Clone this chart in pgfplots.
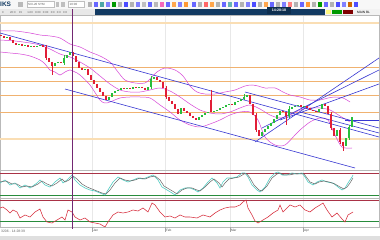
\documentclass[border=0pt]{standalone}
\usepackage{pgfplots}
\pgfplotsset{compat=1.18}
\usepackage{fontspec}
\setmainfont{Liberation Sans}
\definecolor{orl}{RGB}{240,178,112}
\definecolor{orlight}{RGB}{250,222,180}
\definecolor{mag}{RGB}{215,70,215}
\definecolor{bl}{RGB}{55,55,210}
\definecolor{candR}{RGB}{225,30,55}
\definecolor{candG}{RGB}{40,190,60}
\definecolor{vpurp}{RGB}{115,40,115}
\definecolor{navy}{RGB}{18,58,98}
\definecolor{teal1}{RGB}{80,205,195}
\definecolor{oscred}{RGB}{215,45,60}
\definecolor{lvlred}{RGB}{170,50,70}
\definecolor{lvlgreen}{RGB}{40,140,60}
\pgfplotsset{panel/.style={scale only axis, xmin=0, xmax=379, y dir=reverse,
  axis line style={draw=gray!55, line width=0.4pt}, xtick={92,165,230,303},
  xticklabels={}, ytick=\empty, major tick length=0pt, xmajorgrids,
  grid style={gray!18, line width=0.4pt}, clip=true, anchor=south west, at={(0,0)}, width=379pt}}
\begin{document}
\begin{tikzpicture}[x=1pt,y=1pt]
\fill[white] (0,0) rectangle (380,240);
% ---------- main price panel ----------
\begin{scope}[shift={(0,70)}]
\begin{axis}[panel, height=155pt, ymin=15, ymax=170]
\addplot[orlight, line width=1.4pt] coordinates {(0,23)(379,23)};
\addplot[orlight, line width=1.4pt] coordinates {(0,139)(379,139)};
\addplot[orl, line width=0.6pt] coordinates {(0,67)(379,67)};
\addplot[orl, line width=0.6pt] coordinates {(0,81)(379,81)};
\addplot[orl, line width=0.6pt] coordinates {(0,95)(379,95)};
\addplot[orl, line width=0.6pt] coordinates {(0,112)(379,112)};
% bollinger bands
\addplot[mag, line width=0.5pt, smooth] coordinates {(0,31)(15,31)(30,33)(40,35)(50,36)(60,38)(70,44)(80,47)(90,52)(100,56)(110,62)(118,72)(125,80)(135,83)(145,83)(150,79)(157,72)(165,68)(175,70)(183,76)(190,86)(197,92)(205,94)(215,94)(225,92)(235,90)(245,86)(252,85)(258,86)(265,88)(275,88)(283,92)(290,95)(300,97)(310,100)(320,100)(328,98)(335,97)(343,98)(350,102)};
\addplot[mag, line width=0.5pt, smooth] coordinates {(0,40)(15,41)(30,43)(40,45)(50,49)(60,54)(70,57)(80,62)(90,68)(100,76)(110,84)(120,90)(130,92)(140,92)(150,90)(160,88)(170,91)(180,97)(190,104)(200,110)(210,113)(220,114)(230,112)(240,108)(250,105)(260,109)(270,115)(280,118)(290,115)(300,110)(310,108)(320,108)(330,110)(340,116)(350,122)};
\addplot[mag, line width=0.5pt, smooth] coordinates {(0,52)(10,53)(20,54)(30,56)(40,60)(45,64)(50,70)(55,72)(60,75)(65,72)(70,70)(75,72)(80,75)(90,85)(100,100)(105,103)(110,102)(120,98)(130,97)(140,97)(150,98)(160,105)(170,112)(180,120)(190,125)(200,127)(210,124)(220,120)(230,115)(240,112)(250,112)(258,120)(265,137)(275,145)(285,145)(295,135)(300,130)(310,122)(320,118)(328,120)(335,135)(342,147)(352,148)};
% trend lines
\addplot[bl, line width=0.6pt] coordinates {(0,33)(379,137)};
\addplot[bl, line width=0.6pt] coordinates {(65,89)(355,168)};
\addplot[bl, line width=0.6pt] coordinates {(245,92)(379,128)};
\addplot[bl, line width=0.6pt] coordinates {(300,112)(379,133)};
\addplot[bl, line width=0.6pt] coordinates {(345,120)(379,120)};
\addplot[bl, line width=0.6pt] coordinates {(255,142)(379,58)};
\addplot[bl, line width=0.6pt] coordinates {(262,128)(379,70)};
\addplot[bl, line width=0.6pt] coordinates {(280,120)(379,84)};
% wicks
\addplot[candR, line width=0.4pt, unbounded coords=jump] coordinates {(52,62)(52,75)(52,nan)(211,90)(211,112)(211,nan)(286,112)(286,125)(286,nan)(343,142)(343,151)(343,nan)(340,128)(340,144)(340,nan)(46,45)(46,60)(46,nan)(166,86)(166,99)(166,nan)(256,113)(256,132)(256,nan)(331,112)(331,130)};
\addplot[candG, line width=0.4pt, unbounded coords=jump] coordinates {(151,76)(151,89)(151,nan)(289,106)(289,118)(289,nan)(349,125)(349,140)(349,nan)(64,55)(64,65)(64,nan)(244,94)(244,100)};
% red candles
\addplot[candR, line width=1.05pt, unbounded coords=jump] coordinates {
(1,35)(1,36)(1,nan)(4,36)(4,38)(4,nan)(10,37)(10,40)(10,nan)(13,40)(13,43)(13,nan)(16,43)(16,45)(16,nan)
(22,44)(22,46)(22,nan)(28,45)(28,47)(28,nan)(34,46)(34,47)(34,nan)(43,45)(43,47)(43,nan)(46,47)(46,58)(46,nan)
(49,58)(49,62)(49,nan)(52,62)(52,66)(52,nan)(61,62)(61,63.2)(61,nan)(73,52)(73,56)(73,nan)(76,56)(76,62)(76,nan)
(79,62)(79,68)(79,nan)(82,68)(82,70)(82,nan)(88,69)(88,75)(88,nan)(91,75)(91,80)(91,nan)(94,80)(94,84)(94,nan)
(97,84)(97,88)(97,nan)(100,88)(100,92)(100,nan)(103,92)(103,96)(103,nan)(106,96)(106,100)(106,nan)
(124,88)(124,89.2)(124,nan)(130,88)(130,89.2)(130,nan)(136,87)(136,88.2)(136,nan)(142,87)(142,88.2)(142,nan)(145,88)(145,90)(145,nan)
(157,77)(157,80)(157,nan)(160,80)(160,82)(160,nan)(163,82)(163,88)(163,nan)(166,88)(166,97)(166,nan)(169,97)(169,101)(169,nan)
(172,101)(172,104)(172,nan)(175,104)(175,109)(175,nan)(178,109)(178,114)(178,nan)(184,108)(184,111)(184,nan)(187,111)(187,113)(187,nan)
(190,113)(190,116)(190,nan)(193,116)(193,118)(193,nan)(196,118)(196,120)(196,nan)(211,100)(211,112)(211,nan)(232,104)(232,105.2)(232,nan)
(250,95)(250,104)(250,nan)(253,104)(253,115)(253,nan)(256,115)(256,130)(256,nan)(259,130)(259,136)(259,nan)
(283,111)(283,112.2)(283,nan)(286,112)(286,116)(286,nan)(301,105)(301,107)(301,nan)(307,106)(307,108)(307,nan)(310,108)(310,110)(310,nan)
(313,110)(313,111.2)(313,nan)(316,111)(316,112.2)(316,nan)(325,104)(325,106)(325,nan)(328,106)(328,114)(328,nan)(331,114)(331,128)(331,nan)
(334,128)(334,136)(334,nan)(340,130)(340,142)(340,nan)(343,142)(343,146)};
% green candles
\addplot[candG, line width=1.05pt, unbounded coords=jump] coordinates {
(7,38)(7,37)(7,nan)(19,45)(19,44)(19,nan)(25,46)(25,45)(25,nan)(31,47)(31,46)(31,nan)(37,47)(37,46)(37,nan)(40,46)(40,45)(40,nan)
(55,66)(55,63)(55,nan)(58,63)(58,62)(58,nan)(64,63)(64,58)(64,nan)(67,58)(67,55)(67,nan)(70,55)(70,52)(70,nan)(85,70)(85,69)(85,nan)
(109,100)(109,97)(109,nan)(112,97)(112,93)(112,nan)(115,93)(115,91)(115,nan)(118,91)(118,90)(118,nan)(121,90)(121,88)(121,nan)
(127,89)(127,88)(127,nan)(133,89)(133,87)(133,nan)(139,88)(139,87)(139,nan)(148,90)(148,87)(148,nan)(151,87)(151,79)(151,nan)(154,79)(154,77)(154,nan)
(181,114)(181,108)(181,nan)(199,120)(199,117)(199,nan)(202,117)(202,115)(202,nan)(205,115)(205,113)(205,nan)(208,113)(208,112)(208,nan)
(214,112)(214,111)(214,nan)(217,111)(217,110)(217,nan)(220,110)(220,108)(220,nan)(223,108)(223,107)(223,nan)(226,107)(226,105)(226,nan)
(229,105)(229,104)(229,nan)(235,105)(235,102)(235,nan)(238,102)(238,101)(238,nan)(241,101)(241,99)(241,nan)(244,99)(244,97)(244,nan)(247,97)(247,95)(247,nan)
(262,136)(262,132)(262,nan)(265,132)(265,129)(265,nan)(268,129)(268,126)(268,nan)(271,126)(271,123)(271,nan)(274,123)(274,119)(274,nan)
(277,119)(277,115)(277,nan)(280,115)(280,111)(280,nan)(289,116)(289,109)(289,nan)(292,109)(292,107)(292,nan)(295,107)(295,106)(295,nan)
(298,106)(298,105)(298,nan)(304,107)(304,106)(304,nan)(319,112)(319,109)(319,nan)(322,109)(322,104)(322,nan)(337,136)(337,130)(337,nan)
(346,146)(346,138)(346,nan)(349,138)(349,127)(349,nan)(352,127)(352,117)};
\end{axis}
\end{scope}
% ---------- oscillator 1 ----------
\begin{scope}[shift={(0,42)}]
\begin{axis}[panel, height=28pt, ymin=170, ymax=198]
\addplot[lvlred, line width=0.6pt] coordinates {(0,173)(379,173)};
\addplot[lvlgreen, line width=0.6pt] coordinates {(0,195)(379,195)};
\addplot[teal1, line width=0.6pt] coordinates {(0,183)(5,180)(10,185)(15,183)(20,188)(25,185)(30,188)(37,183)(40,180)(45,185)(50,187)(55,182)(60,178)(63,183)(67,180)(72,175)(75,180)(80,185)(85,188)(90,190)(95,191)(100,193)(105,195)(108,190)(113,182)(118,177)(123,180)(128,182)(133,180)(138,178)(143,179)(148,177)(153,175)(158,180)(162,187)(167,190)(172,193)(175,195)(180,190)(185,188)(190,188)(195,190)(198,192)(203,188)(208,182)(212,178)(217,183)(220,188)(223,182)(227,178)(232,178)(237,177)(242,173)(245,173)(248,177)(252,185)(257,190)(260,192)(265,187)(270,178)(275,173)(278,172)(282,175)(287,175)(292,173)(297,174)(302,173)(305,177)(308,182)(313,185)(317,182)(322,180)(327,182)(333,183)(338,187)(342,190)(345,188)(348,183)(352,177)(353,175)};
\addplot[gray!80!black, line width=0.5pt] coordinates {(0,182)(6,181)(12,184)(17,184)(22,187)(27,186)(32,187)(38,184)(42,181)(47,184)(52,186)(57,183)(62,179)(65,182)(69,180)(73,176)(77,179)(82,184)(87,187)(92,189)(97,191)(102,193)(106,194)(110,190)(115,183)(120,178)(125,180)(130,181)(135,180)(140,178)(145,179)(150,177)(155,176)(160,180)(164,186)(169,189)(174,192)(177,194)(182,190)(187,188)(192,188)(197,190)(200,191)(205,187)(210,182)(214,179)(219,183)(222,187)(225,183)(229,179)(234,178)(239,177)(244,174)(247,174)(250,178)(254,185)(259,190)(262,191)(267,186)(272,178)(277,174)(280,173)(284,175)(289,175)(294,174)(299,174)(304,174)(307,178)(310,182)(315,184)(319,182)(324,181)(329,182)(335,184)(340,187)(344,189)(347,187)(350,183)(353,178)};
\end{axis}
\end{scope}
% ---------- oscillator 2 ----------
\begin{scope}[shift={(0,13)}]
\begin{axis}[panel, height=29pt, ymin=198, ymax=227]
\addplot[lvlred, line width=0.6pt] coordinates {(0,200)(379,200)};
\addplot[lvlgreen, line width=0.6pt] coordinates {(0,221)(379,221)};
\addplot[oscred, line width=0.55pt] coordinates {(0,208)(3,207)(7,210)(10,213)(13,210)(17,212)(20,218)(25,215)(30,217)(35,212)(40,209)(43,217)(47,222)(52,223)(57,220)(62,217)(65,220)(68,210)(72,212)(75,217)(80,220)(85,218)(90,222)(95,223)(100,224)(105,227)(108,222)(113,215)(118,212)(123,213)(128,212)(133,210)(138,211)(143,208)(148,212)(152,203)(155,205)(160,212)(165,217)(170,216)(175,218)(180,215)(185,217)(190,217)(197,218)(203,215)(210,217)(215,213)(220,210)(225,208)(230,207)(235,207)(240,205)(243,202)(246,200)(248,208)(252,215)(255,221)(258,223)(263,220)(268,217)(273,213)(278,210)(280,205)(283,212)(287,208)(290,205)(295,207)(300,205)(305,210)(310,212)(315,208)(320,205)(323,203)(327,210)(332,217)(337,213)(342,219)(345,222)(348,215)(353,212)};
\end{axis}
\end{scope}
% ---------- header / toolbar ----------
\fill[gray!6] (0,231) rectangle (380,240);
\draw[gray!40, line width=0.3pt] (0,231) -- (380,231);
\node[anchor=west, inner sep=0pt, text=navy, font=\fontsize{6.5}{6.5}\selectfont\bfseries] at (0,235.5) {IKS};
\fill[gray!55] (18,233) rectangle (23,238);
\draw[gray!50, fill=white, line width=0.3pt] (27,232.5) rectangle (54,238.5);
\node[anchor=west, inner sep=0pt, font=\fontsize{3}{3}\selectfont, text=gray!70!black] at (28,235.5) {SIX-20 SYM};
\fill[gray!50] (56,233) rectangle (59,238);
\fill[gray!50] (61,233) rectangle (65,238);
\draw[gray!50, fill=white, line width=0.3pt] (68,232.5) rectangle (84,238.5);
\node[anchor=west, inner sep=0pt, font=\fontsize{3}{3}\selectfont, text=gray!70!black] at (69.5,235.5) {10:00};
\foreach \xx/\cc in {88/gray!60,94/blue!60,100/teal!70,106/blue!50,112/green!60!black,118/gray!60,124/blue!70,130/gray!60,136/blue!50,142/gray!50,148/blue!60,154/gray!55,160/magenta!60,166/blue!60,172/orange!70,178/blue!50,184/orange!80,192/blue!60,198/gray!60,204/red!60,210/orange!70,216/gray!60,222/blue!60,228/teal!60,234/blue!60,240/gray!60,246/blue!50,252/blue!70,258/gray!60,264/orange!70,270/blue!60,276/gray!60,282/blue!50,288/red!50,294/gray!60,300/blue!60,306/orange!80,312/gray!60,318/green!60!black,324/blue!60,330/gray!60,336/blue!70,342/blue!50,348/orange!80!black,354/blue!70}
  {\fill[\cc] (\xx,233) rectangle ++(4,4.5);}
% second header row
\fill[gray!18] (0,225) rectangle (95,230.6);
\node[anchor=west, inner sep=0pt, font=\fontsize{2.8}{3}\selectfont, text=gray!70!black] at (2,227.8) {0 \quad\quad 20:0 \quad 15 \quad\; 1.00 \; 0:00 \; 0:00 \; 0:0 \; 0:0 \; 0:0};
\fill[navy] (95,225) rectangle (325,230.6);
\fill[gray!10] (325,225) rectangle (380,230.6);
\fill[yellow!50] (326,226) rectangle (331,230);
\fill[green!60!black] (332,226) rectangle (342,230);
\fill[red!50!black] (343,226) rectangle (353,230);
\node[anchor=west, inner sep=0pt, font=\fontsize{3.2}{3}\selectfont, text=black] at (357,227.8) {MAIN BL};
\fill[navy!80!black] (267,226) rectangle (291,232.5);
\node[inner sep=0pt, font=\fontsize{3.6}{3.6}\selectfont\bfseries, text=white] at (279,229.3) {14:28:18};
% vertical purple line
\draw[vpurp, line width=0.6pt] (72,230.6) -- (72,11);
% ---------- date axis ----------
\foreach \xx/\lb in {92/Jan,165/Feb,230/Mar,303/Apr}
 {\draw[gray!70, line width=0.3pt] (\xx,13) -- (\xx,8);
  \node[anchor=west, inner sep=0pt, font=\fontsize{3.2}{3}\selectfont, text=gray!70!black] at (\xx+0.8,9.5) {\lb};}
\node[anchor=west, inner sep=0pt, font=\fontsize{3.4}{3.4}\selectfont, text=gray!80!black] at (1,8.5) {3206 - 14:28:39};
\fill[gray!25] (0,0) rectangle (380,4);
\pgfresetboundingbox
\path[use as bounding box] (0,0) rectangle (380,240);
\end{tikzpicture}
\end{document}
